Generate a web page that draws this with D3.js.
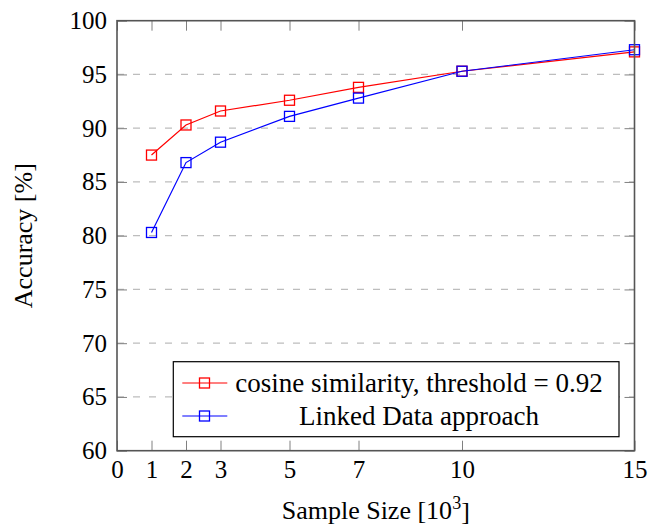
<!DOCTYPE html>
<html>
<head>
<meta charset="utf-8">
<script src="https://cdn.jsdelivr.net/npm/d3@7"></script>
<style>
  body { margin: 0; background: #fff; }
</style>
</head>
<body>
<svg id="chart"></svg>
<script>
// data
const sampleSizes = [1, 2, 3, 5, 7, 10, 15];
const cosineAcc = [87.5, 90.3, 91.6, 92.6, 93.8, 95.3, 97.1];
const linkedAcc = [80.3, 86.8, 88.7, 91.1, 92.8, 95.3, 97.3];
const xTicks = [0, 1, 2, 3, 5, 7, 10, 15];
const yTicks = [60, 65, 70, 75, 80, 85, 90, 95, 100];
const seriesNames = ["cosine similarity, threshold = 0.92", "Linked Data approach"];
const seriesColors = ["#ff0000", "#0000ff"];

const width = 649, height = 527;
const margin = { top: 20.7, right: 14.5, bottom: 76.3, left: 117 };
const serif = '"Liberation Serif"';

const svg = d3.select("#chart")
    .attr("width", width)
    .attr("height", height);

const x = d3.scaleLinear().domain([0, 15]).range([margin.left, width - margin.right]);
const y = d3.scaleLinear().domain([60, 100]).range([height - margin.bottom, margin.top]);

const tickLen = 10;
const fontSize = 25;

// horizontal dashed grid
svg.append("g")
    .selectAll("line")
    .data(yTicks.filter(d => d > 60 && d < 100))
    .join("line")
    .attr("x1", x(0))
    .attr("x2", x(15))
    .attr("y1", d => y(d))
    .attr("y2", d => y(d))
    .attr("stroke", "#bdbdbd")
    .attr("stroke-width", 1.3)
    .attr("stroke-dasharray", "7,9");

// series lines + square markers
const series = [cosineAcc, linkedAcc];
const line = d3.line().x(d => x(d[0])).y(d => y(d[1]));
const msize = 10;

series.forEach((vals, i) => {
  const pts = sampleSizes.map((s, j) => [s, vals[j]]);
  svg.append("path")
      .datum(pts)
      .attr("d", line)
      .attr("fill", "none")
      .attr("stroke", seriesColors[i])
      .attr("stroke-width", 1.2);
  svg.append("g")
      .selectAll("rect")
      .data(pts)
      .join("rect")
      .attr("x", d => x(d[0]) - msize / 2)
      .attr("y", d => y(d[1]) - msize / 2)
      .attr("width", msize)
      .attr("height", msize)
      .attr("fill", "none")
      .attr("stroke", seriesColors[i])
      .attr("stroke-width", 1.3);
});

// axes (inward ticks on all four sides)
const axBottom = svg.append("g")
    .attr("transform", `translate(0,${y(60)})`)
    .call(d3.axisBottom(x).tickValues(xTicks).tickSizeInner(-tickLen).tickSizeOuter(0).tickPadding(9.5));
const axTop = svg.append("g")
    .attr("transform", `translate(0,${y(100)})`)
    .call(d3.axisTop(x).tickValues(xTicks).tickSizeInner(-tickLen).tickSizeOuter(0).tickFormat(""));
const axLeft = svg.append("g")
    .attr("transform", `translate(${x(0)},0)`)
    .call(d3.axisLeft(y).tickValues(yTicks).tickSizeInner(-tickLen).tickSizeOuter(0).tickPadding(10));
const axRight = svg.append("g")
    .attr("transform", `translate(${x(15)},0)`)
    .call(d3.axisRight(y).tickValues(yTicks).tickSizeInner(-tickLen).tickSizeOuter(0).tickFormat(""));

[axBottom, axTop, axLeft, axRight].forEach(ax => {
  ax.select(".domain").remove();
  ax.attr("font-family", null).attr("font-size", null);
  ax.selectAll("line").attr("stroke", "#808080").attr("stroke-width", 1);
  ax.selectAll("text")
      .style("font-family", serif)
      .style("font-size", fontSize + "px")
      .attr("fill", "#000");
});

// legend
const lg = { x: 173.3, y: 361.7, w: 445.7, h: 75 };
const legend = svg.append("g");
legend.append("rect")
    .attr("x", lg.x).attr("y", lg.y)
    .attr("width", lg.w).attr("height", lg.h)
    .attr("fill", "#fff")
    .attr("stroke", "#000")
    .attr("stroke-width", 1.2);
const rowY = [383, 416];
seriesNames.forEach((name, i) => {
  legend.append("line")
      .attr("x1", 182.3).attr("x2", 227.3)
      .attr("y1", rowY[i]).attr("y2", rowY[i])
      .attr("stroke", seriesColors[i])
      .attr("stroke-width", 1.2);
  legend.append("rect")
      .attr("x", 204.5 - msize / 2).attr("y", rowY[i] - msize / 2)
      .attr("width", msize).attr("height", msize)
      .attr("fill", "none")
      .attr("stroke", seriesColors[i])
      .attr("stroke-width", 1.3);
  legend.append("text")
      .attr("x", 419)
      .attr("y", rowY[i])
      .attr("dy", "0.33em")
      .attr("text-anchor", "middle")
      .style("font-family", serif)
      .style("font-size", "27px")
      .text(name);
});

// frame
svg.append("rect")
    .attr("x", x(0)).attr("y", y(100))
    .attr("width", x(15) - x(0)).attr("height", y(60) - y(100))
    .attr("fill", "none")
    .attr("stroke", "#555")
    .attr("stroke-width", 1.6);

// axis titles
const xTitle = svg.append("text")
    .attr("x", (x(0) + x(15)) / 2)
    .attr("y", 519)
    .attr("text-anchor", "middle")
    .style("font-family", serif)
    .style("font-size", "26px");
xTitle.append("tspan").text("Sample Size [10");
xTitle.append("tspan").style("font-size", "18px").attr("dy", "-0.55em").text("3");
xTitle.append("tspan").attr("dy", "0.4em").text("]");

svg.append("text")
    .attr("transform", `translate(31.5,${(y(60) + y(100)) / 2}) rotate(-90)`)
    .attr("text-anchor", "middle")
    .style("font-family", serif)
    .style("font-size", "26px")
    .text("Accuracy [%]");
</script>
</body>
</html>
